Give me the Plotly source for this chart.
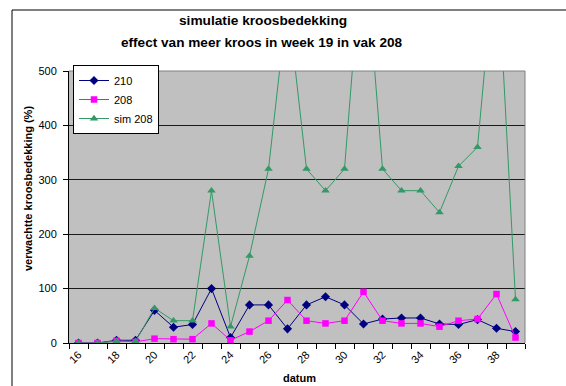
import plotly.graph_objects as go

weeks = list(range(16, 40))
s210 = [0, 0, 5, 5, 60, 29, 34, 100, 10, 70, 70, 26, 70, 85, 70, 35, 44, 46, 46, 35, 34, 43, 27, 21]
s208 = [0, 0, 4, 2, 8, 7, 7, 36, 5, 21, 41, 79, 41, 36, 41, 94, 41, 36, 36, 30, 41, 44, 90, 10]
sim208 = [0, 0, 3, 3, 64, 41, 41, 280, 30, 160, 320, 630, 320, 280, 320, 760, 320, 280, 280, 240, 325, 360, 740, 80]
xticks = list(range(16, 39, 2))
yticks = [0, 100, 200, 300, 400, 500]

W, H = 566, 386
L, R, T, B = 69, 525, 71, 343

FONT = "Arial, Liberation Sans, sans-serif"

fig = go.Figure()
fig.add_trace(go.Scatter(x=weeks, y=s210, name="210", mode="lines+markers",
                         line=dict(color="#000080", width=1),
                         marker=dict(symbol="diamond", size=7, color="#000080")))
fig.add_trace(go.Scatter(x=weeks, y=s208, name="208", mode="lines+markers",
                         line=dict(color="#FF00FF", width=1),
                         marker=dict(symbol="square", size=6.5, color="#FF00FF")))
fig.add_trace(go.Scatter(x=weeks, y=sim208, name="sim 208", mode="lines+markers",
                         line=dict(color="#339966", width=1),
                         marker=dict(symbol="triangle-up", size=7.5, color="#339966")))

def px(x):
    return (x - L) / (R - L)

def py(y):
    return (B - y) / (B - T)

fig.update_layout(
    width=W, height=H,
    margin=dict(l=L, r=W - R, t=T, b=H - B, pad=0),
    paper_bgcolor="white",
    plot_bgcolor="#C0C0C0",
    font=dict(family=FONT, size=11, color="black"),
    showlegend=True,
    legend=dict(x=px(73), y=py(65), xanchor="left", yanchor="top",
                bgcolor="white", bordercolor="black", borderwidth=1,
                font=dict(size=11), tracegroupgap=0),
    xaxis=dict(range=[15.5, 39.5], tickvals=xticks, ticktext=[str(v) for v in xticks],
               tickangle=-45, ticks="", showgrid=False, zeroline=False,
               showline=True, linecolor="black", linewidth=1,
               minor=dict(ticks="outside", tick0=15.5, dtick=1, ticklen=5,
                          tickcolor="black", showgrid=False),
               tickfont=dict(size=11)),
    yaxis=dict(range=[0, 500], tickvals=yticks, ticks="outside", ticklen=5,
               tickcolor="black", showgrid=True, gridcolor="#1a1a1a", gridwidth=1,
               zeroline=False, showline=True, linecolor="black", linewidth=1,
               ticklabelstandoff=4, tickfont=dict(size=11)),
    shapes=[
        dict(type="line", xref="paper", yref="paper", x0=0, x1=1, y0=1, y1=1,
             line=dict(color="#808080", width=1)),
        dict(type="line", xref="paper", yref="paper", x0=1, x1=1, y0=0, y1=1,
             line=dict(color="#808080", width=1)),
        dict(type="line", xref="paper", yref="paper", x0=px(12), x1=px(566), y0=py(10), y1=py(10),
             line=dict(color="black", width=1)),
        dict(type="line", xref="paper", yref="paper", x0=px(12), x1=px(12), y0=py(10), y1=py(386),
             line=dict(color="black", width=1)),
    ],
    annotations=[
        dict(text="<b>simulatie kroosbedekking</b>", xref="paper", yref="paper",
             x=px(263), y=py(20), xanchor="center", yanchor="middle", showarrow=False,
             font=dict(size=13.7)),
        dict(text="<b>effect van meer kroos in week 19 in vak 208</b>", xref="paper", yref="paper",
             x=px(262), y=py(43), xanchor="center", yanchor="middle", showarrow=False,
             font=dict(size=13.6)),
        dict(text="<b>verwachtte kroosbedekking (%)</b>", xref="paper", yref="paper",
             x=px(28), y=py(189), xanchor="center", yanchor="middle", showarrow=False,
             textangle=-90, font=dict(size=11)),
        dict(text="<b>datum</b>", xref="paper", yref="paper",
             x=px(299), y=py(378), xanchor="center", yanchor="middle", showarrow=False,
             font=dict(size=11)),
    ],
)

fig.write_html("out.html")
